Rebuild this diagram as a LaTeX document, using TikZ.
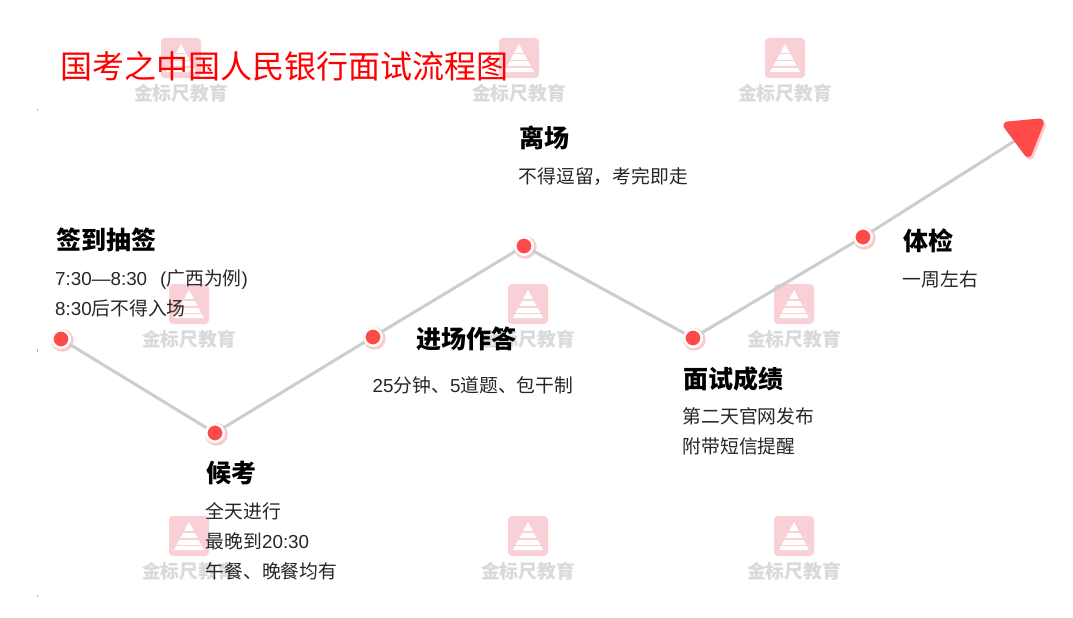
\documentclass[tikz,border=0pt]{standalone}
\usepackage{fontspec}
\setmainfont{Noto Sans CJK SC}
\newfontfamily\lat{Liberation Sans}
\usetikzlibrary{shadows}
\definecolor{mred}{HTML}{FF4A4A}
\definecolor{mline}{HTML}{CDCDCD}
\definecolor{wmpink}{HTML}{F8D0D5}
\definecolor{wmgrey}{HTML}{DADADA}
\definecolor{body}{HTML}{262626}
\tikzset{
  dotnode/.style={circle,draw=white,line width=2.5pt,fill=mred,minimum size=17.5pt,inner sep=0pt,
    drop shadow={shadow xshift=1pt,shadow yshift=-1pt,shadow scale=1.3,fill=mred,opacity=.3}},
  conn/.style={draw=mline,line width=3pt},
  headshape/.style={line width=8pt,line join=round},
  headnode/.style={anchor=west,inner sep=0pt,font=\fontsize{25}{30}\selectfont\bfseries,text=black},
  bodynode/.style={anchor=north west,inner sep=0pt,align=left,font=\fontsize{18.8}{30}\selectfont,text=body},
  titlenode/.style={anchor=west,inner sep=0pt,font=\fontsize{32}{38}\selectfont,text=red},
  wmtext/.style={inner sep=0pt,font=\fontsize{18.8}{20}\selectfont\bfseries,text=wmgrey},
  wmlogo/.pic={
    \fill[wmpink,rounded corners=4pt] (-20,-20) rectangle (20,20);
    \fill[white] (0,-14) -- (15,14) -- (-15,14) -- cycle;
    \fill[wmpink] (-10,-5) rectangle (10,-3.5);
    \fill[wmpink] (-12,2) rectangle (12,3.5);
    \fill[wmpink] (-14,8.5) rectangle (14,10);
  }
}
\begin{document}
\begin{tikzpicture}[x=1pt,y=-1pt]
\useasboundingbox (0,0) rectangle (1073,618);
\fill[white] (0,0) rectangle (1073,618);
% watermarks
\foreach \wx/\wy/\id in {181/58/a,519/58/b,785/58/c,189/304/d,528/304/e,794/304/f,189/536/g,528/536/h,794/536/i}{
  \pic at (\wx,\wy) {wmlogo};
  \node[wmtext] (wm\id) at (\wx,\wy+35) {金标尺教育};
}
% small margin marks
\fill[gray!60] (36.5,109) rectangle (37.2,111);
\fill[gray!60] (36.5,349) rectangle (37.2,352);
\fill[gray!60] (36.5,595) rectangle (37.2,597);
% title
\node[titlenode] (title) at (60.5,66) {国考之中国人民银行面试流程图};
% connectors and nodes
\coordinate (tip) at (1024,135);
\node[dotnode] (a) at (61,339) {};
\node[dotnode] (b) at (215,433) {};
\node[dotnode] (c) at (373,337) {};
\node[dotnode] (d) at (524,246) {};
\node[dotnode] (e) at (693,338) {};
\node[dotnode] (f) at (863,237) {};
\draw[conn] (a) -- (b);
\draw[conn] (b) -- (c);
\draw[conn] (c) -- (d);
\draw[conn] (d) -- (e);
\draw[conn] (e) -- (f);
\draw[conn] (f) -- (tip);
\filldraw[headshape,draw=mred!30,fill=mred!30] (1010,128) -- (1042,125) -- (1030,155.5) -- cycle;
\filldraw[headshape,draw=mred,fill=mred] (1007.5,125.5) -- (1040,122.5) -- (1028,153) -- cycle;
% labels
\node[headnode] (h1) at (56,240) {签到抽签};
\node[bodynode] (t1) at (55,269) {{\lat 7:30—8:30\hspace{13pt}(}广西为例{\lat )}\\{\lat 8:30}后不得入场};
\node[headnode] (h2) at (206,473) {候考};
\node[bodynode] (t2) at (205.5,502) {全天进行\\最晚到{\lat 20:30}\\午餐、晚餐均有};
\node[headnode] (h3) at (416,338.5) {进场作答};
\node[bodynode] (t3) at (372.5,376) {{\lat 25}分钟、{\lat 5}道题、包干制};
\node[headnode] (h4) at (519,138) {离场};
\node[bodynode] (t4) at (518.5,167) {不得逗留，考完即走};
\node[headnode] (h5) at (683,379) {面试成绩};
\node[bodynode] (t5) at (682.5,407) {第二天官网发布\\附带短信提醒};
\node[headnode] (h6) at (903,241) {体检};
\node[bodynode] (t6) at (902.5,271) {一周左右};
\end{tikzpicture}
\end{document}
